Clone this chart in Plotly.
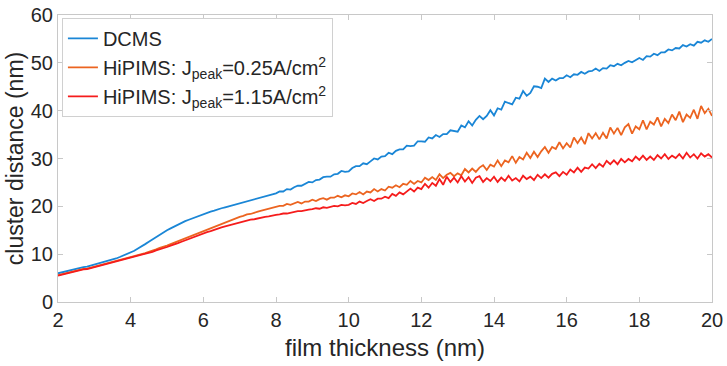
import numpy as np
import plotly.graph_objects as go

thickness = [round(2 + 0.1 * i, 1) for i in range(181)]

dcms = [
    6.0, 6.2, 6.4, 6.5, 6.7, 6.9, 7.1, 7.3, 7.4, 7.6,
    7.8, 8.0, 8.2, 8.4, 8.6, 8.9, 9.1, 9.4, 9.7, 10.0,
    10.3, 10.7, 11.2, 11.6, 12.1, 12.6, 13.1, 13.6, 14.1, 14.5,
    15.0, 15.4, 15.8, 16.2, 16.6, 16.9, 17.2, 17.5, 17.8, 18.1,
    18.4, 18.6, 18.9, 19.1, 19.4, 19.6, 19.8, 20.0, 20.3, 20.5,
    20.7, 20.9, 21.1, 21.3, 21.5, 21.7, 21.9, 22.1, 22.3, 22.5,
    22.7, 23.1, 23.1, 23.6, 23.5, 24.0, 24.3, 24.3, 24.7, 25.1,
    25.0, 25.5, 25.6, 26.1, 26.2, 26.2, 26.7, 26.8, 27.4, 27.2,
    27.3, 28.0, 28.4, 28.4, 29.0, 28.8, 29.4, 30.0, 29.8, 30.4,
    30.5, 31.2, 30.9, 31.6, 31.9, 31.9, 32.7, 32.6, 32.7, 33.6,
    33.6, 33.5, 34.4, 34.2, 34.9, 34.5, 35.1, 35.1, 35.9, 35.7,
    35.6, 36.9, 36.5, 37.8, 36.9, 38.1, 38.9, 38.2, 38.9, 40.1,
    39.0, 40.5, 40.2, 41.9, 41.6, 41.3, 42.7, 42.5, 44.1, 43.1,
    43.7, 45.1, 45.0, 44.7, 46.7, 46.0, 46.7, 46.3, 46.8, 46.8,
    47.4, 47.0, 47.6, 47.5, 48.1, 47.7, 48.2, 48.3, 48.8, 48.3,
    48.9, 48.8, 49.5, 49.3, 49.8, 49.5, 50.0, 50.4, 50.1, 50.5,
    51.0, 50.6, 51.4, 51.3, 51.9, 51.6, 52.2, 52.2, 52.8, 52.6,
    53.1, 53.0, 53.7, 53.4, 53.9, 53.6, 54.4, 54.2, 54.7, 54.4,
    55.0,
]

hipims_025 = [
    5.6, 5.8, 6.0, 6.1, 6.3, 6.5, 6.7, 6.9, 7.0, 7.2,
    7.4, 7.6, 7.8, 7.9, 8.1, 8.3, 8.5, 8.7, 8.9, 9.1,
    9.3, 9.5, 9.7, 10.0, 10.2, 10.5, 10.7, 11.0, 11.3, 11.5,
    11.8, 12.1, 12.4, 12.7, 13.0, 13.3, 13.6, 13.9, 14.2, 14.5,
    14.8, 15.1, 15.5, 15.8, 16.1, 16.4, 16.7, 17.0, 17.2, 17.5,
    17.8, 18.0, 18.3, 18.4, 18.7, 18.9, 19.1, 19.3, 19.6, 19.7,
    19.9, 20.1, 20.1, 20.5, 20.3, 20.6, 20.9, 20.6, 21.0, 21.0,
    21.4, 21.1, 21.5, 21.7, 21.4, 21.8, 21.8, 22.2, 21.9, 22.3,
    22.1, 22.7, 22.5, 23.0, 22.5, 23.1, 22.9, 23.6, 23.1, 23.6,
    23.3, 24.1, 23.9, 24.4, 24.0, 24.7, 24.5, 25.3, 24.7, 25.3,
    25.0, 26.0, 25.5, 26.1, 25.5, 26.7, 25.9, 26.6, 27.0, 26.3,
    26.9, 26.5, 27.8, 27.1, 27.9, 27.2, 28.1, 28.6, 27.6, 28.7,
    28.3, 29.6, 28.4, 29.6, 29.2, 30.5, 29.1, 30.3, 29.8, 31.2,
    30.1, 31.4, 30.3, 31.5, 32.4, 31.2, 32.4, 32.0, 33.4, 32.1,
    33.2, 32.3, 34.4, 33.2, 34.4, 33.0, 35.3, 34.2, 35.3, 34.0,
    35.4, 34.2, 36.5, 35.2, 36.4, 34.9, 36.5, 37.2, 35.2, 36.7,
    36.1, 38.0, 36.1, 37.7, 37.1, 38.6, 36.7, 38.3, 37.4, 39.2,
    38.0, 39.8, 37.6, 39.2, 38.5, 40.2, 38.3, 41.0, 39.5, 40.4,
    38.9,
]

hipims_115 = [
    5.5, 5.7, 5.9, 6.0, 6.2, 6.4, 6.6, 6.8, 6.9, 7.1,
    7.3, 7.5, 7.7, 7.8, 8.0, 8.2, 8.4, 8.6, 8.8, 9.0,
    9.2, 9.4, 9.6, 9.8, 10.1, 10.3, 10.5, 10.8, 11.0, 11.3,
    11.5, 11.8, 12.0, 12.3, 12.6, 12.9, 13.2, 13.5, 13.7, 14.0,
    14.3, 14.6, 14.8, 15.1, 15.3, 15.6, 15.8, 16.0, 16.3, 16.5,
    16.7, 16.9, 17.0, 17.2, 17.3, 17.5, 17.6, 17.8, 17.9, 18.1,
    18.2, 18.3, 18.5, 18.5, 18.7, 18.8, 19.0, 19.0, 19.2, 19.3,
    19.4, 19.6, 19.5, 19.8, 19.7, 19.9, 20.1, 20.0, 20.3, 20.2,
    20.3, 20.7, 20.5, 21.0, 20.7, 21.1, 21.5, 21.1, 21.6, 21.6,
    22.0, 21.7, 22.6, 22.2, 22.9, 22.5, 23.2, 23.7, 23.1, 23.9,
    23.6, 24.7, 23.9, 24.9, 24.3, 25.7, 24.5, 26.2, 25.1, 26.0,
    25.0, 26.3, 25.2, 26.1, 24.9, 26.0, 26.3, 25.1, 25.9, 25.3,
    26.2, 25.1, 26.0, 25.3, 26.4, 25.4, 25.9, 25.2, 26.4, 25.7,
    26.2, 25.5, 26.6, 25.9, 26.7, 26.0, 26.8, 27.1, 26.3, 27.2,
    26.6, 27.7, 27.1, 28.1, 27.2, 28.1, 27.9, 28.8, 28.0, 28.9,
    28.3, 29.5, 28.8, 29.6, 28.8, 29.9, 29.2, 29.9, 29.4, 30.4,
    29.7, 30.6, 29.7, 30.4, 29.7, 30.7, 30.0, 30.9, 29.9, 30.6,
    30.1, 30.9, 30.0, 31.2, 30.2, 30.9, 30.0, 31.1, 30.4, 30.9,
    30.2,
]

names = [
    "DCMS",
    "HiPIMS: J<sub>peak</sub>=0.25A/cm<sup>2</sup>",
    "HiPIMS: J<sub>peak</sub>=1.15A/cm<sup>2</sup>",
]
colors = ["#1a86d6", "#ec6420", "#f51c1c"]
x_ticks = [2, 4, 6, 8, 10, 12, 14, 16, 18, 20]
y_ticks = [0, 10, 20, 30, 40, 50, 60]

fig = go.Figure()
for name, vals, col in zip(names, [dcms, hipims_025, hipims_115], colors):
    fig.add_trace(go.Scatter(x=thickness, y=vals, mode="lines", name=name,
                             line=dict(color=col, width=1.8)))

axis_common = dict(
    showline=True, linecolor="#c8c8c8", linewidth=1, mirror="ticks",
    ticks="inside", ticklen=5, tickcolor="#c8c8c8", showgrid=False,
    zeroline=False, tickfont=dict(size=20, color="#262626"), automargin=False,
)
fig.update_xaxes(range=[2, 20], tickvals=x_ticks,
                 title=dict(text="film thickness (nm)", font=dict(size=24, color="#262626"), standoff=9),
                 **axis_common)
fig.update_yaxes(range=[0, 60], tickvals=y_ticks,
                 title=dict(text="cluster distance (nm)", font=dict(size=23, color="#262626"), standoff=0),
                 **axis_common)

fig.update_layout(
    width=727, height=366,
    margin=dict(l=58, r=15, t=15, b=64),
    paper_bgcolor="white", plot_bgcolor="white",
    font=dict(family="Liberation Sans, Arial, sans-serif", color="#262626"),
    legend=dict(x=0.006, y=0.99, xanchor="left", yanchor="top",
                bgcolor="white", bordercolor="#d0d0d0", borderwidth=1,
                font=dict(size=20, color="#262626"), tracegroupgap=0,
                itemwidth=30),
    showlegend=True,
)

fig.write_html("out.html")
